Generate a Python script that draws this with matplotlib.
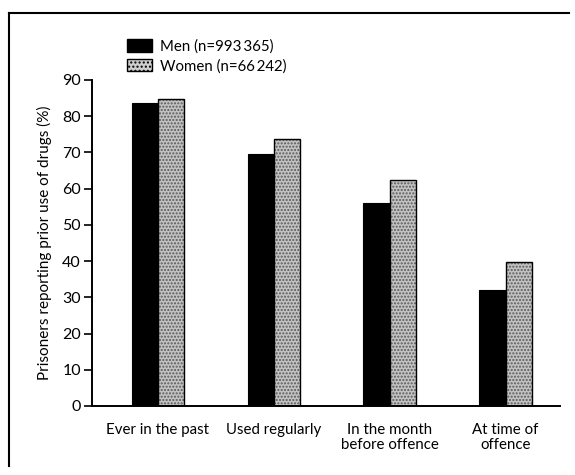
# Bar chart: prior drug use reported by prisoners, men vs women

import numpy as np
import matplotlib.pyplot as plt
from matplotlib.patches import Patch
from matplotlib.lines import Line2D

# Data
categories = ['Ever in the past', 'Used regularly', 'In the month\nbefore offence', 'At time of\noffence']
men = [83.7, 69.6, 56.1, 32.0]
women = [84.7, 73.6, 62.3, 39.8]
yticks = [0, 10, 20, 30, 40, 50, 60, 70, 80, 90]
men_label = 'Men (n=993\u2009365)'
women_label = 'Women (n=66\u2009242)'

plt.rcParams['font.family'] = ['Lato', 'DejaVu Sans']

fig = plt.figure(figsize=(5.75, 4.75), dpi=100)
ax = fig.add_axes([0.16, 0.1453, 0.814, 0.6863])

x = np.arange(len(categories))
w = 0.225

ax.bar(x - w / 2, men, width=w, color='black', edgecolor='black', linewidth=0.8)
# speckled women bars: hatch layer then black outline
ax.bar(x + w / 2, women, width=w, color='#c2c2c2', edgecolor='#5a5a5a',
       hatch='.....', linewidth=0)
ax.bar(x + w / 2, women, width=w, fill=False, edgecolor='black', linewidth=1.0)

ax.set_xlim(-0.566, 3.47)
ax.set_ylim(0, 90)
ax.set_yticks(yticks)
ax.set_xticks(x)
ax.set_xticklabels(categories, fontsize=10.8, linespacing=1.15)
ax.tick_params(axis='x', length=0, pad=12)
ax.tick_params(axis='y', length=6, width=1.2, labelsize=11.5, pad=2)
for s in ['top', 'right']:
    ax.spines[s].set_visible(False)
for s in ['left', 'bottom']:
    ax.spines[s].set_linewidth(1.4)

ax.set_ylabel('Prisoners reporting prior use of drugs (%)', fontsize=11, labelpad=7)

handles = [Patch(facecolor='black', edgecolor='black'),
           Patch(facecolor='#cfcfcf', edgecolor='black', hatch='....')]
fig.legend(handles, [men_label, women_label], loc='upper left',
           bbox_to_anchor=(0.21, 0.93), frameon=False, fontsize=10.8,
           handlelength=1.7, handleheight=0.9, handletextpad=0.5,
           labelspacing=0.35, borderaxespad=0)

# frame lines on the left and top of the figure
fig.add_artist(Line2D([0.016, 0.016], [0.02, 0.973], color='black', linewidth=1.5))
fig.add_artist(Line2D([0.016, 0.99], [0.973, 0.973], color='black', linewidth=1.5))

fig.savefig('out.png', dpi=100)
